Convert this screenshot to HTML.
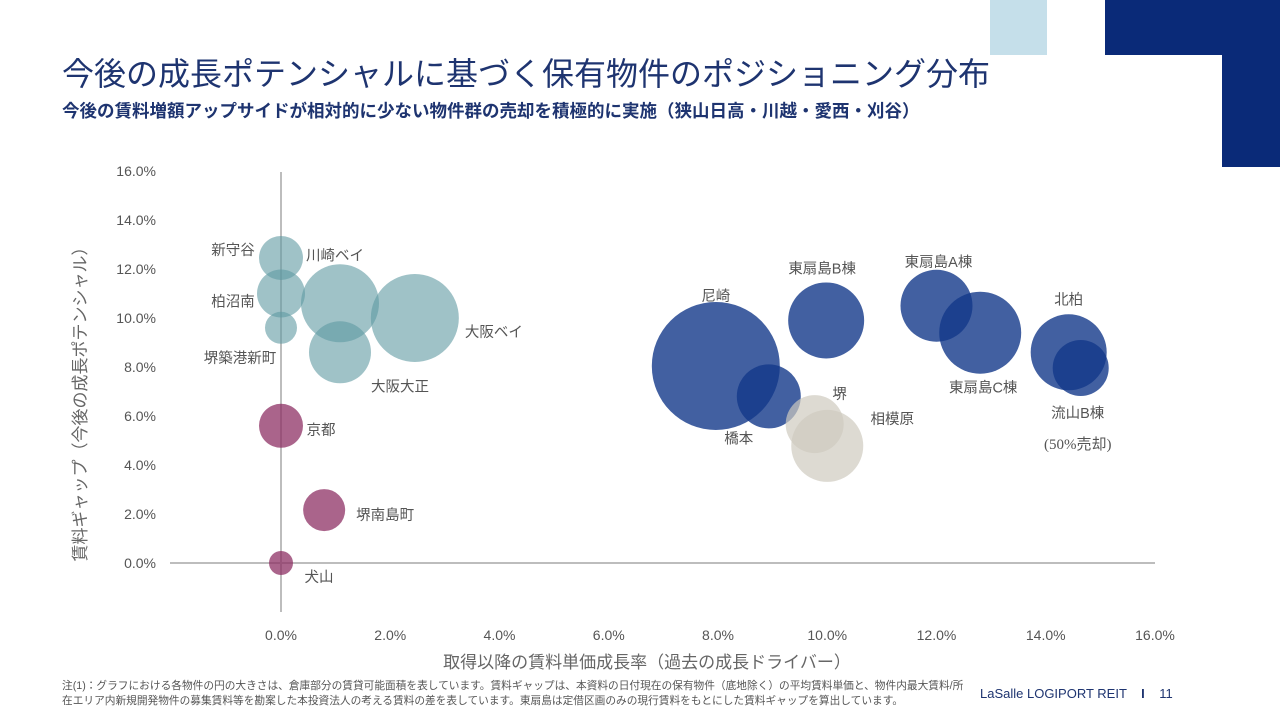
<!DOCTYPE html>
<html><head><meta charset="utf-8"><style>
body{margin:0;width:1280px;height:720px;background:#fff;overflow:hidden;position:relative;font-family:"Liberation Sans","Noto Sans CJK JP",sans-serif}
.a{position:absolute}
</style></head><body>
<div class="a" style="left:990px;top:0;width:57px;height:55px;background:#c5dfea"></div>
<div class="a" style="left:1105px;top:0;width:175px;height:55px;background:#0a2a78"></div>
<div class="a" style="left:1222px;top:55px;width:58px;height:112px;background:#0a2a78"></div>
<div class="a" style="left:62px;top:49px;font-size:32px;color:#1e3470;white-space:nowrap">今後の成長ポテンシャルに基づく保有物件のポジショニング分布</div>
<div class="a" style="left:62px;top:98px;font-size:17.5px;font-weight:bold;color:#1e3470;white-space:nowrap">今後の賃料増額アップサイドが相対的に少ない物件群の売却を積極的に実施（狭山日高・川越・愛西・刈谷）</div>
<svg class="a" style="left:0;top:0" width="1280" height="720">
<g id="g"></g>
</svg>
<div class="a" style="left:62px;top:679px;font-size:10.7px;color:#555;line-height:15px;white-space:nowrap">注(1)：グラフにおける各物件の円の大きさは、倉庫部分の賃貸可能面積を表しています。賃料ギャップは、本資料の日付現在の保有物件（底地除く）の平均賃料単価と、物件内最大賃料/所<br>在エリア内新規開発物件の募集賃料等を勘案した本投資法人の考える賃料の差を表しています。東扇島は定借区画のみの現行賃料をもとにした賃料ギャップを算出しています。</div>
<div class="a" style="left:980px;top:686px;font-size:13px;color:#1e3470;white-space:nowrap">LaSalle LOGIPORT REIT &nbsp;&nbsp;&nbsp;<b>I</b>&nbsp;&nbsp;&nbsp; 11</div>
<script>
const names=["新守谷","柏沼南","堺築港新町","川崎ベイ","大阪ベイ","大阪大正","京都","堺南島町","犬山","尼崎","橋本","東扇島B棟","東扇島A棟","東扇島C棟","北柏","流山B棟","堺","相模原"];
const xs=[0,0,0,1.08,2.45,1.08,0,0.79,0,7.96,8.93,9.98,12.0,12.8,14.42,14.64,9.77,10.0];
const ys=[12.45,11.0,9.6,10.6,10.0,8.6,5.6,2.16,0,8.04,6.8,9.9,10.5,9.4,8.6,7.96,5.67,4.78];
const sizes=[22,24,16,39,44,31,22,21,12,64,32,38,36,41,38,28,29,36];
const groups=["t","t","t","t","t","t","p","p","p","n","n","n","n","n","n","n","b","b"];
const xTicks=[0,2,4,6,8,10,12,14,16];
const yTicks=[0,2,4,6,8,10,12,14,16];
const labelPos=[[-48,-8],[-48,8],[-41,30],[-5,-48],[79,14],[60,34],[40,4],[61,5],[38,14],[0,-70],[-30,42],[-4,-52],[2,-44],[3,55],[0,-53],[-3,45],[25,-30],[65,-27]];
const X=v=>281+v*54.625, Y=v=>563-v*24.5;
const ns="http://www.w3.org/2000/svg", g=document.getElementById('g');
function mk(t,a,txt){const e=document.createElementNS(ns,t);for(const k in a)e.setAttribute(k,a[k]);if(txt!==undefined)e.textContent=txt;g.appendChild(e);return e;}
let l=mk('line',{x1:170,x2:1155,y1:Y(0),y2:Y(0),stroke:'#bdbdbd','stroke-width':2});


l=mk('line',{x1:X(0),x2:X(0),y1:172,y2:612,stroke:'#bdbdbd','stroke-width':2});


xTicks.forEach(v=>{const t=mk('text',{x:X(v),y:640,'text-anchor':'middle','font-size':14,fill:'#555'},v.toFixed(1)+'%');

});
yTicks.forEach(v=>{const t=mk('text',{x:156,y:Y(v)+5,'text-anchor':'end','font-size':14,fill:'#555'},v.toFixed(1)+'%');

});
let t=mk('text',{x:647,y:668,'text-anchor':'middle','font-size':17,fill:'#666'},'取得以降の賃料単価成長率（過去の成長ドライバー）');


t=mk('text',{x:0,y:0,'text-anchor':'middle','font-size':17,fill:'#666',transform:'translate(86,400) rotate(-90)'},'賃料ギャップ（今後の成長ポテンシャル）');


const col={t:['#5f9aa2',0.6],p:['#8e3064',0.75],n:['#13388a',0.8],b:['#cfcbbf',0.7]};
names.forEach((n,i)=>{const c=mk('circle',{cx:X(xs[i]),cy:Y(ys[i]),r:sizes[i],fill:col[groups[i]][0],'fill-opacity':col[groups[i]][1]});

});
names.forEach((n,i)=>{const lb=mk('text',{x:X(xs[i])+labelPos[i][0],y:Y(ys[i])+labelPos[i][1]+5,'text-anchor':'middle','font-size':14.5,fill:'#555'},n);

});
t=mk('text',{x:X(14.64)-3,y:Y(7.96)+81,'text-anchor':'middle','font-size':15,fill:'#555','font-family':'Liberation Serif,serif'},'(50%売却)');


</script>
</body></html>
